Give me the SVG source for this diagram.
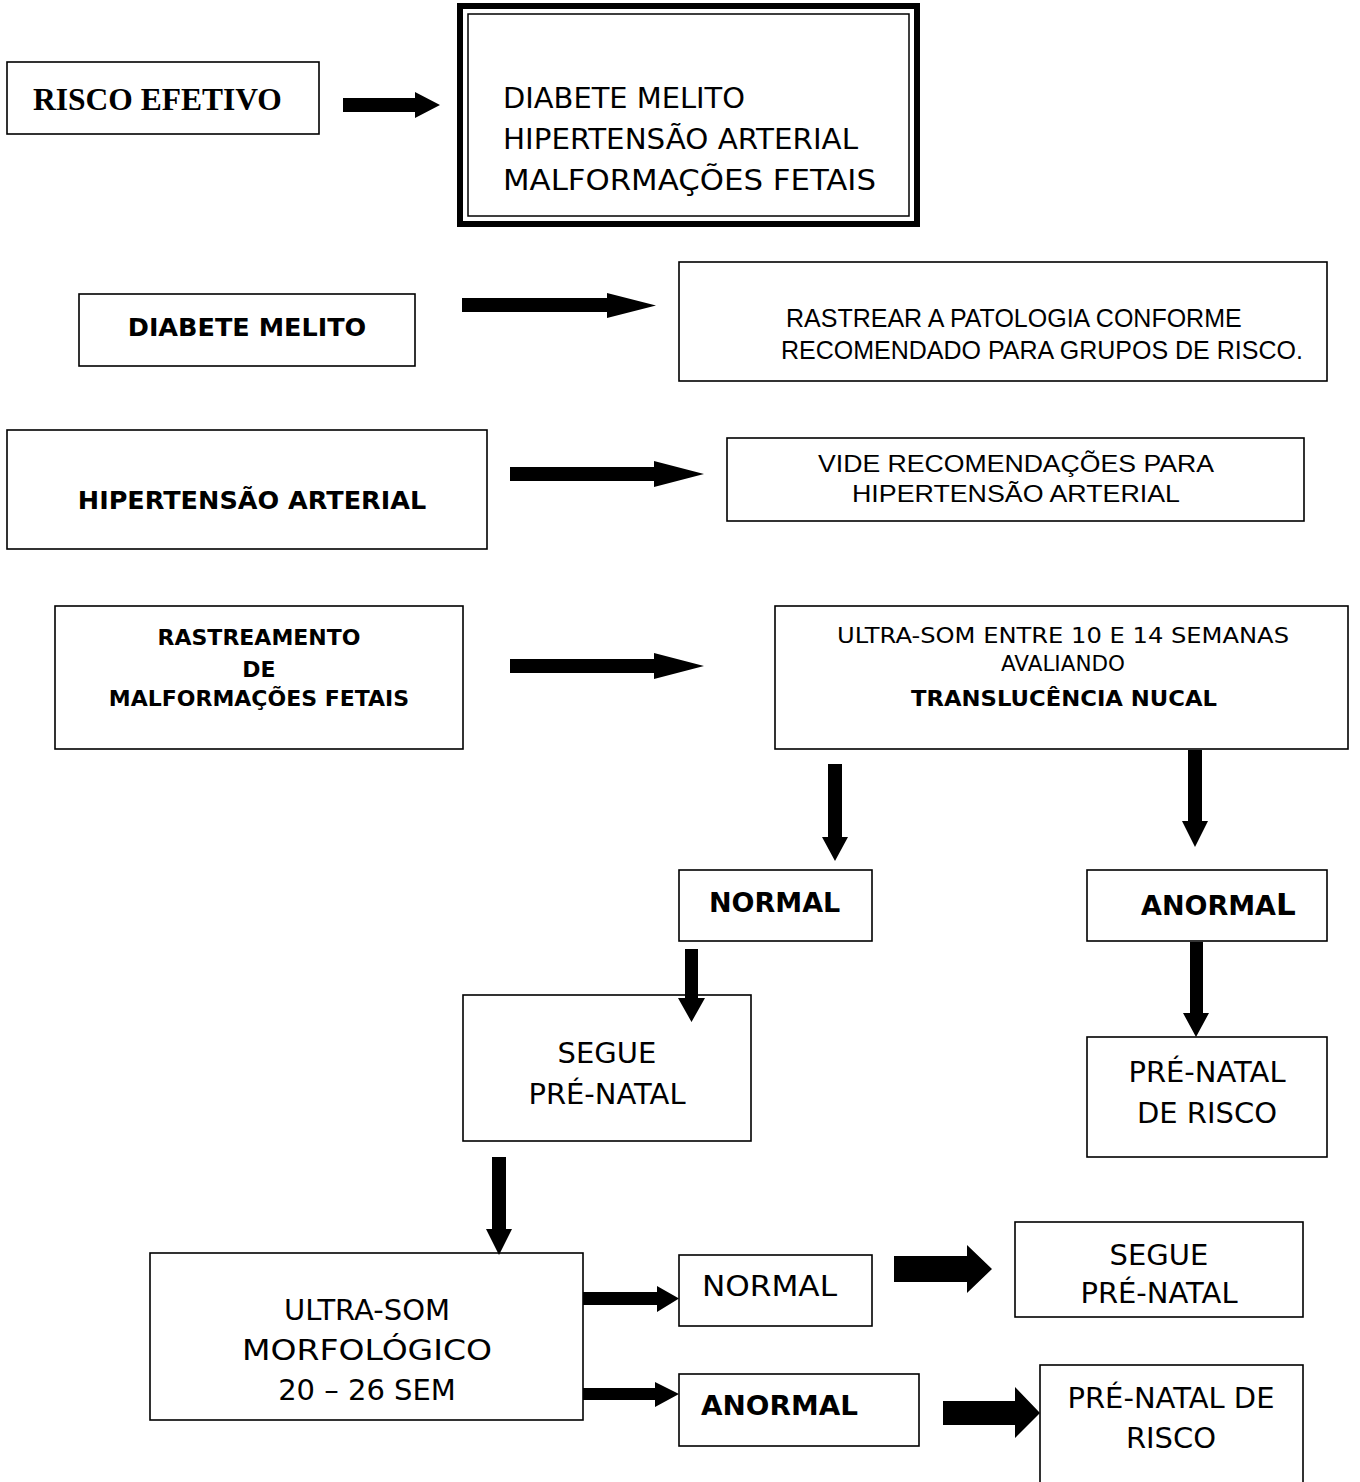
<svg xmlns="http://www.w3.org/2000/svg" width="1360" height="1482" viewBox="0 0 1360 1482">
<style>
.box{fill:#fff;stroke:#000;stroke-width:1.6}
.arr{fill:#000;stroke:none}
.g{font-family:"DejaVu Sans","Liberation Sans",sans-serif;fill:#000}
.gb{font-family:"DejaVu Sans","Liberation Sans",sans-serif;font-weight:bold;fill:#000}
.a{font-family:"Liberation Sans",Arial,sans-serif;fill:#000}
.t{font-family:"Liberation Serif","Times New Roman",serif;font-weight:bold;fill:#000}
.m{text-anchor:middle}
</style>
<rect width="1360" height="1482" fill="#fff"/>
<g id="risco-efetivo">
<rect class="box" x="7" y="62" width="312" height="72"/>
<text class="t" x="33" y="110" font-size="31.5">RISCO EFETIVO</text>
</g>
<g id="lista-riscos">
<rect x="460" y="6" width="457" height="218" fill="#fff" stroke="#000" stroke-width="6"/>
<rect x="468" y="14" width="441" height="202" fill="none" stroke="#000" stroke-width="1.5"/>
<text class="g" font-size="28.5"><tspan x="503" y="108" textLength="242" lengthAdjust="spacingAndGlyphs">DIABETE MELITO</tspan><tspan x="503" y="149" textLength="355" lengthAdjust="spacingAndGlyphs">HIPERTENSÃO ARTERIAL</tspan><tspan x="503" y="190" textLength="373" lengthAdjust="spacingAndGlyphs">MALFORMAÇÕES FETAIS</tspan></text>
</g>
<g id="diabete">
<rect class="box" x="79" y="294" width="336" height="72"/>
<text class="gb m" x="247" y="336" font-size="25.5">DIABETE MELITO</text>
</g>
<g id="rastrear">
<rect class="box" x="679" y="262" width="648" height="119"/>
<text class="a" font-size="25"><tspan x="786" y="327">RASTREAR A PATOLOGIA CONFORME</tspan><tspan x="781" y="359">RECOMENDADO PARA GRUPOS DE RISCO.</tspan></text>
</g>
<g id="hipertensao">
<rect class="box" x="7" y="430" width="480" height="119"/>
<text class="gb m" x="252" y="509" font-size="25.5">HIPERTENSÃO ARTERIAL</text>
</g>
<g id="vide">
<rect class="box" x="727" y="438" width="577" height="83"/>
<text class="a" font-size="24"><tspan x="818" y="472" textLength="396" lengthAdjust="spacingAndGlyphs">VIDE RECOMENDAÇÕES PARA</tspan><tspan x="852" y="502" textLength="328" lengthAdjust="spacingAndGlyphs">HIPERTENSÃO ARTERIAL</tspan></text>
</g>
<g id="rastreamento">
<rect class="box" x="55" y="606" width="408" height="143"/>
<text class="gb m" font-size="22"><tspan x="259" y="645">RASTREAMENTO</tspan><tspan x="259" y="677">DE</tspan><tspan x="259" y="706">MALFORMAÇÕES FETAIS</tspan></text>
</g>
<g id="ultrasom-tn">
<rect class="box" x="775" y="606" width="573" height="143"/>
<text class="g" font-size="21.5"><tspan x="837" y="643" textLength="452" lengthAdjust="spacingAndGlyphs">ULTRA-SOM ENTRE 10 E 14 SEMANAS</tspan><tspan x="1063" y="671" text-anchor="middle">AVALIANDO</tspan></text>
<text class="gb" x="911" y="706" font-size="21.5" textLength="306" lengthAdjust="spacingAndGlyphs">TRANSLUCÊNCIA NUCAL</text>
</g>
<g id="normal-1">
<rect class="box" x="679" y="870" width="193" height="71"/>
<text class="gb" x="709" y="912" font-size="27">NORMAL</text>
</g>
<g id="anormal-1">
<rect class="box" x="1087" y="870" width="240" height="71"/>
<text class="gb" x="1141" y="915" font-size="27">ANORMA<tspan font-size="31">L</tspan></text>
</g>
<g id="segue-1">
<rect class="box" x="463" y="995" width="288" height="146"/>
<text class="g m" font-size="29"><tspan x="607" y="1063">SEGUE</tspan><tspan x="607" y="1104">PRÉ-NATAL</tspan></text>
</g>
<g id="prenatal-risco-1">
<rect class="box" x="1087" y="1037" width="240" height="120"/>
<text class="g m" font-size="29"><tspan x="1207" y="1082">PRÉ-NATAL</tspan><tspan x="1207" y="1123">DE RISCO</tspan></text>
</g>
<g id="ultrasom-morfologico">
<rect class="box" x="150" y="1253" width="433" height="167"/>
<text class="g" font-size="29"><tspan x="367" y="1320" text-anchor="middle">ULTRA-SOM</tspan><tspan x="242" y="1360" textLength="250" lengthAdjust="spacingAndGlyphs">MORFOLÓGICO</tspan><tspan x="367" y="1400" text-anchor="middle">20 – 26 SEM</tspan></text>
</g>
<g id="normal-2">
<rect class="box" x="679" y="1255" width="193" height="71"/>
<text class="g" x="702" y="1296" font-size="27.5" textLength="135" lengthAdjust="spacingAndGlyphs">NORMAL</text>
</g>
<g id="anormal-2">
<rect class="box" x="679" y="1374" width="240" height="72"/>
<text class="gb" x="701" y="1415" font-size="27" textLength="157" lengthAdjust="spacingAndGlyphs">ANORMAL</text>
</g>
<g id="segue-2">
<rect class="box" x="1015" y="1222" width="288" height="95"/>
<text class="g m" font-size="29"><tspan x="1159" y="1265">SEGUE</tspan><tspan x="1159" y="1303">PRÉ-NATAL</tspan></text>
</g>
<g id="prenatal-risco-2">
<rect class="box" x="1040" y="1365" width="263" height="140"/>
<text class="g m" font-size="29"><tspan x="1171" y="1408">PRÉ-NATAL DE</tspan><tspan x="1171" y="1448">RISCO</tspan></text>
</g>
<g id="connectors">
<polygon class="arr" points="343,98 415,98 415,92 440,105 415,118 415,112 343,112"/>
<polygon class="arr" points="462,298 607,298 607,293 656,305.5 607,318 607,312 462,312"/>
<polygon class="arr" points="510,467 654,467 654,461 704,474 654,487 654,481 510,481"/>
<polygon class="arr" points="510,659 654,659 654,653 704,666 654,679 654,673 510,673"/>
<polygon class="arr" points="828,764 842,764 842,837 848,837 835,861 822,837 828,837"/>
<polygon class="arr" points="1188,750 1202,750 1202,821 1208,821 1195,847 1182,821 1188,821"/>
<polygon class="arr" points="685,949 698,949 698,998 705,998 691.5,1022 678,998 685,998"/>
<polygon class="arr" points="1190,942 1203,942 1203,1013 1209,1013 1196,1037 1183,1013 1190,1013"/>
<polygon class="arr" points="492,1157 506,1157 506,1229 512,1229 499,1255 486,1229 492,1229"/>
<polygon class="arr" points="583,1292 657,1292 657,1286 679,1298.5 657,1312 657,1305 583,1305"/>
<polygon class="arr" points="583,1388 655,1388 655,1382 679,1394 655,1407 655,1400 583,1400"/>
<polygon class="arr" points="894,1256 967,1256 967,1245 992,1269 967,1293 967,1282 894,1282"/>
<polygon class="arr" points="943,1401 1015,1401 1015,1387 1040,1413 1015,1438 1015,1425 943,1425"/>
</g>
</svg>
